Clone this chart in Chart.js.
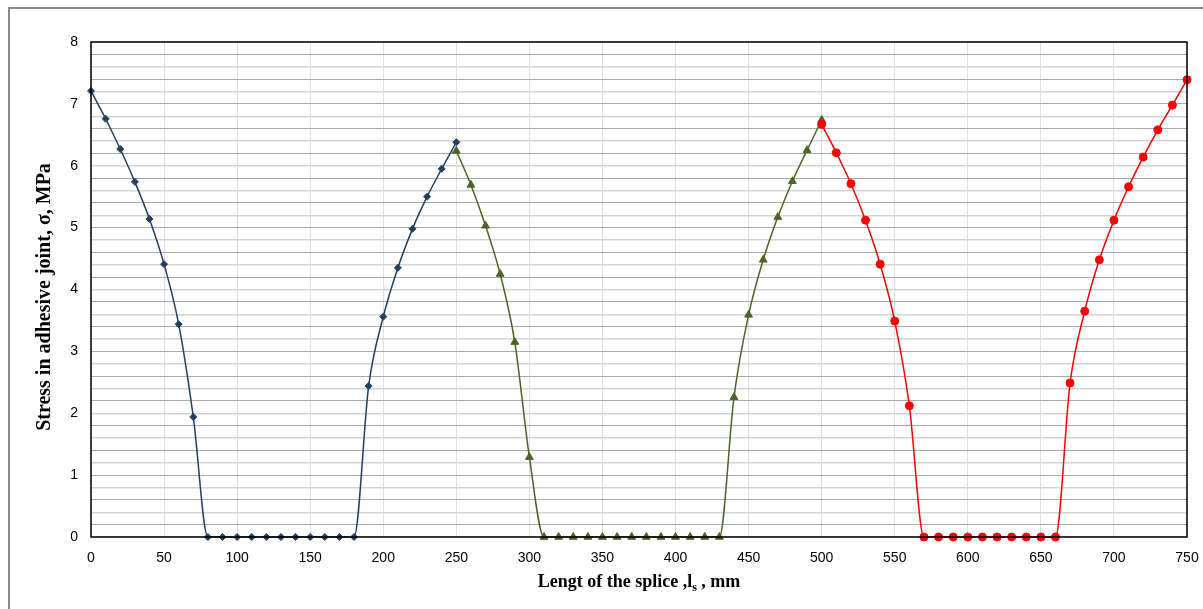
<!DOCTYPE html>
<html>
<head>
<meta charset="utf-8">
<script src="https://cdn.jsdelivr.net/npm/chart.js@4/dist/chart.umd.min.js"></script>
<style>
  html, body { margin: 0; padding: 0; background: #fff; overflow: hidden; }
  #wrap { position: relative; width: 1203px; height: 609px; }
  #frame { position: absolute; left: 8px; top: 7px; width: 1400px; height: 800px; border: 2px solid #8a8a8a; box-sizing: border-box; }
  canvas { position: absolute; left: 0; top: 0; }
</style>
</head>
<body>
<div id="wrap">
  <div id="frame"></div>
  <canvas id="myChart" width="1203" height="609"></canvas>
</div>
<script>
// splice length (mm) and stress (MPa) for each segment
var xLeft = [0, 10, 20, 30, 40, 50, 60, 70, 80, 90, 100, 110, 120, 130, 140, 150, 160, 170, 180, 190, 200, 210, 220, 230, 240, 250];
var sLeft = [7.21, 6.76, 6.27, 5.74, 5.14, 4.41, 3.44, 1.94, 0, 0, 0, 0, 0, 0, 0, 0, 0, 0, 0, 2.44, 3.56, 4.35, 4.98, 5.50, 5.95, 6.38];

var xMid = [250, 260, 270, 280, 290, 300, 310, 320, 330, 340, 350, 360, 370, 380, 390, 400, 410, 420, 430, 440, 450, 460, 470, 480, 490, 500];
var sMid = [6.24, 5.69, 5.03, 4.25, 3.15, 1.29, 0, 0, 0, 0, 0, 0, 0, 0, 0, 0, 0, 0, 0, 2.26, 3.59, 4.48, 5.17, 5.75, 6.25, 6.74];

var xRight = [500, 510, 520, 530, 540, 550, 560, 570, 580, 590, 600, 610, 620, 630, 640, 650, 660, 670, 680, 690, 700, 710, 720, 730, 740, 750];
var sRight = [6.67, 6.21, 5.71, 5.12, 4.41, 3.49, 2.12, 0, 0, 0, 0, 0, 0, 0, 0, 0, 0, 2.49, 3.65, 4.48, 5.12, 5.66, 6.14, 6.58, 6.98, 7.39];

var xTicks = [0, 750, 50];
var yTicks = [0, 8, 0.2];

var yTitle = 'Stress in adhesive joint, σ, MPa';
var xTitle = ['Lengt of the splice ,l', 's', ' , mm'];

function toPoints(xs, ys) {
    return xs.map((x, i) => ({x: x, y: ys[i]}));
}

var ctx = document.getElementById('myChart').getContext('2d');

// plot border + both axis titles (x title has a subscript)
const plotExtras = {
    id: 'plotExtras',
    afterDraw(chart) {
        const a = chart.chartArea;
        const c = chart.ctx;
        c.save();
        c.strokeStyle = '#000';
        c.lineWidth = 1.5;
        c.strokeRect(a.left, a.top, a.right - a.left, a.bottom - a.top);

        const serif = '"Liberation Serif", "Times New Roman", serif';
        c.fillStyle = '#000';
        c.textBaseline = 'alphabetic';

        // y title
        c.save();
        c.translate(50, 297);
        c.rotate(-Math.PI / 2);
        c.textAlign = 'center';
        c.font = 'bold 20px ' + serif;
        c.fillText(yTitle, 0, 0);
        c.restore();

        // x title
        const big = 'bold 18px ' + serif;
        const small = 'bold 12px ' + serif;
        c.textAlign = 'left';
        c.font = big;
        const w1 = c.measureText(xTitle[0]).width, w3 = c.measureText(xTitle[2]).width;
        c.font = small;
        const w2 = c.measureText(xTitle[1]).width;
        let x = (a.left + a.right) / 2 - (w1 + w2 + w3) / 2;
        const y = 587;
        c.font = big; c.fillText(xTitle[0], x, y); x += w1;
        c.font = small; c.fillText(xTitle[1], x, y + 4); x += w2;
        c.font = big; c.fillText(xTitle[2], x, y);
        c.restore();
    }
};

new Chart(ctx, {
    type: 'scatter',
    data: {
        datasets: [
            {
                data: toPoints(xRight, sRight),
                borderColor: '#ff0000',
                backgroundColor: '#ff0000',
                pointStyle: 'circle',
                pointRadius: 4,
                order: 0
            },
            {
                data: toPoints(xMid, sMid),
                borderColor: '#4f6228',
                backgroundColor: '#4f6228',
                pointStyle: 'triangle',
                pointRadius: 4.5,
                order: 1
            },
            {
                data: toPoints(xLeft, sLeft),
                borderColor: '#243f60',
                backgroundColor: '#243f60',
                pointStyle: 'rectRot',
                pointRadius: 3.5,
                order: 2
            }
        ].map(d => Object.assign(d, {
            showLine: true,
            borderWidth: 1.5,
            cubicInterpolationMode: 'monotone',
            pointBorderWidth: 1,
            pointHoverRadius: 4,
            clip: 6
        }))
    },
    options: {
        responsive: false,
        animation: false,
        layout: {padding: {left: 0, top: 42, right: 16, bottom: 0}},
        plugins: {
            legend: {display: false},
            tooltip: {enabled: false}
        },
        scales: {
            x: {
                type: 'linear',
                min: xTicks[0],
                max: xTicks[1],
                afterFit: s => { s.height = 72; s.paddingLeft = 0; s.paddingRight = 0; },
                ticks: {
                    stepSize: xTicks[2],
                    color: '#000',
                    padding: 13,
                    maxRotation: 0,
                    font: {family: '"Liberation Sans", Arial, sans-serif', size: 14}
                },
                grid: {color: '#dedede', lineWidth: 1, drawTicks: false},
                border: {display: false}
            },
            y: {
                type: 'linear',
                min: yTicks[0],
                max: yTicks[1],
                afterFit: s => { s.width = 91; s.paddingTop = 0; s.paddingBottom = 0; },
                ticks: {
                    stepSize: yTicks[2],
                    autoSkip: false,
                    color: '#000',
                    padding: 13,
                    font: {family: '"Liberation Sans", Arial, sans-serif', size: 14},
                    callback: v => Math.abs(v - Math.round(v)) < 1e-6 ? Math.round(v) : ''
                },
                grid: {
                    drawTicks: false,
                    lineWidth: c => (c.index % 2 === 0 ? 1.5 : 1),
                    color: c => (c.index % 2 === 0 ? '#d4d4d4' : '#a9a9a9')
                },
                border: {display: false}
            }
        }
    },
    plugins: [plotExtras]
});
</script>
</body>
</html>
